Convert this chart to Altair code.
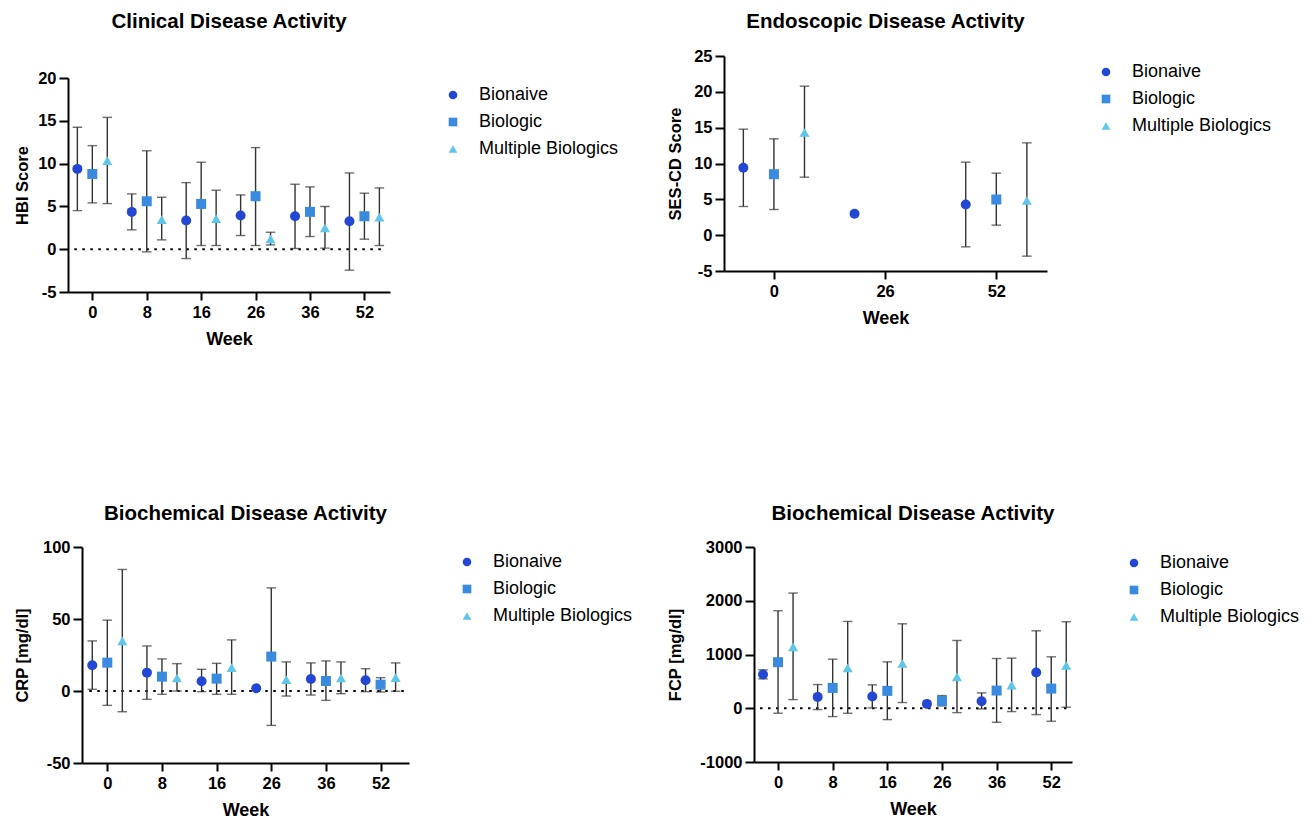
import altair as alt
import pandas as pd

FONT = "Liberation Sans"
GROUPS = ["Bionaive", "Biologic", "Multiple Biologics"]
COLORS = ["#2447d3", "#3a8ae0", "#5ec6e8"]
SHAPES = ["circle", "square", "triangle-up"]
OFFSETS = [-0.275, 0.0, 0.275]

# ---------------- data ----------------
weeks_six = ["0", "8", "16", "26", "36", "52"]
weeks_three = ["0", "26", "52"]

# HBI score
hbi_mean = {"Bionaive": [9.38, 4.36, 3.35, 3.93, 3.85, 3.27],
            "Biologic": [8.79, 5.6, 5.29, 6.19, 4.36, 3.85],
            "Multiple Biologics": [10.35, 3.46, 3.58, 1.21, 2.49, 3.74]}
hbi_low = {"Bionaive": [4.51, 2.26, -1.09, 1.6, 0.08, -2.45],
           "Biologic": [5.41, -0.31, 0.43, 0.43, 1.48, 1.17],
           "Multiple Biologics": [5.33, 1.09, 0.43, 0.5, 0.12, 0.43]}
hbi_high = {"Bionaive": [14.24, 6.46, 7.78, 6.34, 7.59, 8.91],
            "Biologic": [12.1, 11.5, 10.16, 11.87, 7.28, 6.54],
            "Multiple Biologics": [15.4, 6.07, 6.89, 1.98, 4.98, 7.16]}

# SES-CD score
ses_mean = {"Bionaive": [9.4, 2.98, 4.28],
            "Biologic": [8.51, None, 4.98],
            "Multiple Biologics": [14.33, None, 4.84]}
ses_low = {"Bionaive": [4.0, None, -1.63],
           "Biologic": [3.58, None, 1.4],
           "Multiple Biologics": [8.09, None, -2.93]}
ses_high = {"Bionaive": [14.79, None, 10.19],
            "Biologic": [13.44, None, 8.65],
            "Multiple Biologics": [20.79, None, 12.88]}

# CRP [mg/dl]
crp_mean = {"Bionaive": [17.85, 12.75, 6.72, 1.85, 8.35, 7.42],
            "Biologic": [19.7, 9.97, 8.58, 23.9, 6.96, 4.4],
            "Multiple Biologics": [34.8, 9.04, 16.2, 7.88, 9.04, 9.27]}
crp_low = {"Bionaive": [1.16, -5.8, -0.46, None, -2.8, -0.46],
           "Biologic": [-9.97, -2.3, -2.3, -23.9, -6.5, -0.7],
           "Multiple Biologics": [-14.4, 0.0, -2.3, -3.5, -1.85, -0.2]}
crp_high = {"Bionaive": [34.8, 31.3, 15.07, None, 19.5, 15.5],
            "Biologic": [49.2, 22.3, 19.2, 71.6, 20.9, 9.27],
            "Multiple Biologics": [84.4, 19.0, 35.5, 20.2, 20.2, 19.5]}

# FCP [mg/dl]
fcp_mean = {"Bionaive": [627, 211, 217, 81, 130, 665],
            "Biologic": [857, 379, 323, 137, 329, 366],
            "Multiple Biologics": [1143, 752, 832, 584, 429, 795]}
fcp_low = {"Bionaive": [547, -25, 6, None, -12, -118],
           "Biologic": [-93, -155, -211, 43, -261, -242],
           "Multiple Biologics": [161, -93, 106, -81, -62, 19]}
fcp_high = {"Bionaive": [714, 441, 435, None, 286, 1441],
            "Biologic": [1814, 913, 863, 236, 925, 957],
            "Multiple Biologics": [2143, 1615, 1571, 1261, 932, 1609]}


def build_df(weeks, means, lows, highs):
    rows = []
    for g, off in zip(GROUPS, OFFSETS):
        for i, _ in enumerate(weeks):
            m = means[g][i]
            if m is None:
                continue
            rows.append({"group": g, "pos": i + off, "mean": m,
                         "low": lows[g][i], "high": highs[g][i]})
    return pd.DataFrame(rows)


def panel(title, ytitle, weeks, means, lows, highs, ydom, ystep, xdom,
          w, h, toff, lx, ly, ytpad, zero=True):
    df = build_df(weeks, means, lows, highs)
    lab = "[" + ",".join("'%s'" % s for s in weeks) + "][datum.value]"
    x = alt.X("pos:Q", scale=alt.Scale(domain=xdom, nice=False, zero=False),
              axis=alt.Axis(values=list(range(len(weeks))), labelExpr=lab,
                            title="Week", grid=False, domainColor="black",
                            domainWidth=2, tickColor="black", tickWidth=2,
                            tickSize=8, labelFont=FONT, labelFontSize=16.5,
                            labelFontWeight="bold", labelColor="black",
                            labelPadding=4, titleFont=FONT, titleFontSize=18,
                            titleFontWeight="bold", titleColor="black",
                            titlePadding=10))
    yvals = list(range(ydom[0], ydom[1] + 1, ystep))
    yax = alt.Axis(values=yvals, labelExpr="'' + datum.value", grid=False,
                   title=ytitle, domainColor="black",
                   domainWidth=2, tickColor="black", tickWidth=2, tickSize=9,
                   labelFont=FONT, labelFontSize=16.5, labelFontWeight="bold",
                   labelColor="black", labelPadding=3, titleFont=FONT,
                   titleFontSize=16.5, titleFontWeight="bold", titleColor="black",
                   titlePadding=ytpad)
    yscale = alt.Scale(domain=ydom, nice=False, zero=False)
    base = alt.Chart(df)
    err = df.dropna(subset=["low"])
    ebase = alt.Chart(err)
    rule = ebase.mark_rule(color="#333333", strokeWidth=1.4).encode(
        x=x, y=alt.Y("low:Q", scale=yscale, axis=yax), y2="high:Q")
    cap1 = ebase.mark_tick(orient="horizontal", size=9.5, thickness=1.4,
                           color="#333333").encode(x=x, y=alt.Y("low:Q", scale=yscale, axis=yax))
    cap2 = ebase.mark_tick(orient="horizontal", size=9.5, thickness=1.4,
                           color="#333333").encode(x=x, y=alt.Y("high:Q", scale=yscale, axis=yax))
    pts = base.mark_point(filled=True, size=100, opacity=1).encode(
        x=x, y=alt.Y("mean:Q", scale=yscale, axis=yax),
        color=alt.Color("group:N", scale=alt.Scale(domain=GROUPS, range=COLORS),
                        legend=alt.Legend(title=None, orient="none", legendX=lx,
                                          legendY=ly, labelFont=FONT,
                                          labelFontSize=18, labelColor="black",
                                          symbolSize=75, rowPadding=9,
                                          labelOffset=17, symbolStrokeWidth=0)),
        shape=alt.Shape("group:N", scale=alt.Scale(domain=GROUPS, range=SHAPES)))
    layers = []
    if zero:
        zl = alt.Chart(pd.DataFrame({"x0": [-0.33], "x1": [xdom[1] - 0.07], "y0": [0]})).mark_rule(
            color="black", strokeDash=[2.5, 5.5], strokeWidth=2).encode(
            x=alt.X("x0:Q", scale=alt.Scale(domain=xdom, nice=False, zero=False)),
            x2="x1:Q", y=alt.Y("y0:Q", scale=yscale))
        layers.append(zl)
    layers += [rule, cap1, cap2, pts]
    return alt.layer(*layers).properties(
        width=w, height=h,
        title=alt.TitleParams(title, font=FONT, fontSize=20.5, fontWeight="bold",
                              color="black", offset=toff, anchor="middle"))


def spacer():
    return alt.Chart(pd.DataFrame({"a": [0]})).mark_point(opacity=0, size=0).encode(
        x=alt.X("a:Q", axis=None), y=alt.Y("a:Q", axis=None)).properties(width=1, height=1)


IND = dict(color="independent", shape="independent")


def shift_right(ch):
    return alt.hconcat(spacer(), ch, spacing=0).resolve_scale(**IND)


tl = panel("Clinical Disease Activity", "HBI Score", weeks_six, hbi_mean, hbi_low,
           hbi_high, [-5, 20], 5, [-0.447, 5.47], 322, 214, 38, 376, 8, 7)
tr = panel("Endoscopic Disease Activity", "SES-CD Score", weeks_three, ses_mean,
           ses_low, ses_high, [-5, 25], 5, [-0.449, 2.456], 323, 215, 16, 373, 7, 10,
           zero=False)
bl = panel("Biochemical Disease Activity", "CRP [mg/dl]", weeks_six, crp_mean,
           crp_low, crp_high, [-50, 100], 50, [-0.463, 5.52], 327, 216, 15, 376, 6, 12)
br = panel("Biochemical Disease Activity", "FCP [mg/dl]", weeks_six, fcp_mean,
           fcp_low, fcp_high, [-1000, 3000], 1000, [-0.44, 5.38], 318, 215, 15, 371, 7, 16)

left_top = alt.vconcat(spacer(), shift_right(tl), spacing=0).resolve_scale(**IND)
right_top = alt.vconcat(spacer(), shift_right(tr), spacing=0).resolve_scale(**IND)
left = alt.vconcat(left_top, shift_right(bl), spacing=154).resolve_scale(**IND)
right = alt.vconcat(right_top, shift_right(br), spacing=175).resolve_scale(**IND)
chart = alt.hconcat(left, right, spacing=33).resolve_scale(**IND).configure_view(
    stroke=None).properties(padding={"left": 13, "top": 10, "right": 5, "bottom": 5})

chart.save("out.html", embed_options={"renderer": "svg", "actions": False})
